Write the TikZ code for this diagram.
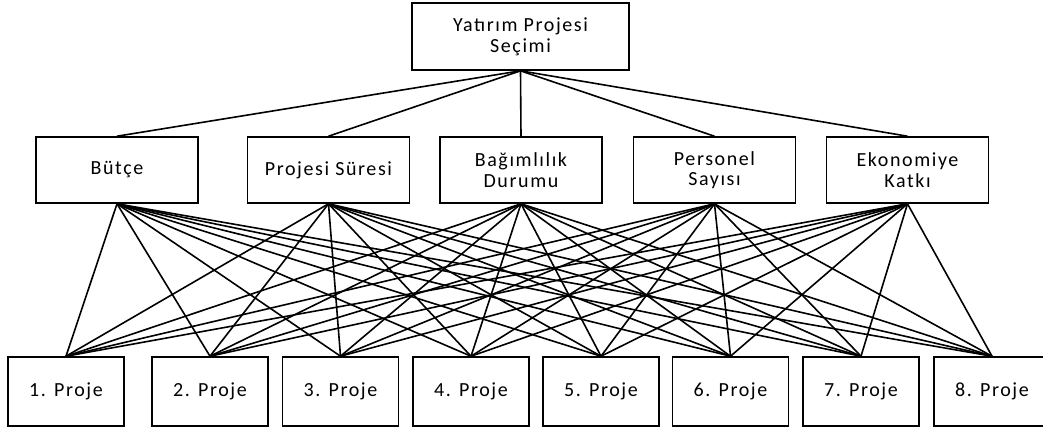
\documentclass[tikz,border=0pt]{standalone}
\usepackage{fontspec}
\setmainfont{Carlito}[LetterSpace=8]
\begin{document}
\begin{tikzpicture}[x=0.75pt,y=-0.75pt,
  box/.style={draw=black,line width=1.2pt,fill=white,inner sep=0pt,align=center,
    font=\fontsize{15}{15.5}\selectfont},
  topbox/.style={box,minimum width=162.75pt,minimum height=50.25pt},
  midbox/.style={box,minimum width=121.5pt,minimum height=49.5pt},
  botbox/.style={box,minimum width=87pt,minimum height=51.75pt},
  link/.style={line width=1.2pt,black}]
\useasboundingbox (0,0) rectangle (1043,430);
\clip (0,0) rectangle (1043,430);
\node[topbox] (top) at (520.5,36.5) {Yatırım Projesi\\Seçimi};
\node[midbox] (m1) at (117,170) {Bütçe};
\node[midbox] (m2) at (328.5,170) {Projesi Süresi};
\node[midbox] (m3) at (521,170) {Bağımlılık\\Durumu};
\node[midbox] (m4) at (714.5,170) {Personel\\Sayısı};
\node[midbox] (m5) at (907.5,170) {Ekonomiye\\Katkı};
\foreach \i/\x in {1/66,2/210,3/340.5,4/471,5/601,6/730.5,7/861,8/992}
  \node[botbox] (b\i) at (\x,391.5) {\i. Proje};
\foreach \m in {1,...,5} {
  \draw[link] (top.south) -- (m\m.north);
  \foreach \b in {1,...,8}
    \draw[link] (m\m.south) -- (b\b.north);
}
\end{tikzpicture}
\end{document}
